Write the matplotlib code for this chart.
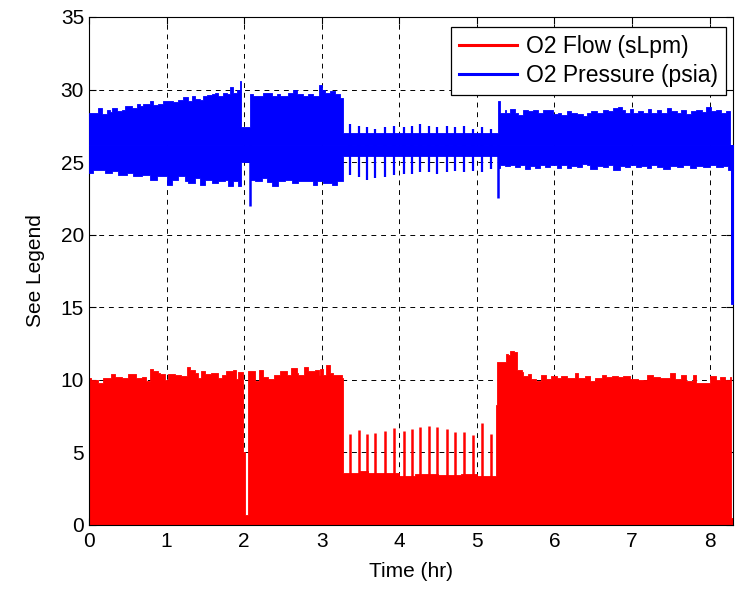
import matplotlib.pyplot as plt
import numpy as np

plt.rcParams['font.family'] = ['Liberation Sans', 'DejaVu Sans']

# ---- O2 flow (sLpm): upper edge of the dense trace, step-wise
flow_top_t = [0.00, 0.03, 0.12, 0.18, 0.29, 0.33, 0.42, 0.50, 0.55, 0.61, 0.68, 0.74,
              0.79, 0.83, 0.89, 0.92, 0.98, 1.02, 1.11, 1.19, 1.26, 1.30, 1.37, 1.41,
              1.45, 1.50, 1.58, 1.67, 1.71, 1.77, 1.86, 1.90, 1.925, 1.985, 2.015,
              2.05, 2.14, 2.19, 2.25, 2.31, 2.39, 2.46, 2.55, 2.60, 2.68, 2.70, 2.77,
              2.83, 2.92, 2.96, 2.98, 3.02, 3.06, 3.11, 3.15, 3.26, 3.28,
              3.50, 3.60, 3.75, 4.00, 4.20, 4.50, 4.80, 5.00, 5.235, 5.25,
              5.262, 5.374, 5.404, 5.434, 5.477, 5.52, 5.576, 5.597, 5.661, 5.704,
              5.769, 5.833, 5.898, 5.962, 6.027, 6.091, 6.156, 6.263, 6.306, 6.392,
              6.456, 6.521, 6.607, 6.671, 6.736, 6.822, 6.886, 6.972, 7.08, 7.187,
              7.273, 7.359, 7.488, 7.552, 7.638, 7.702, 7.788, 7.831, 7.917, 8.003,
              8.089, 8.131, 8.196, 8.26, 8.28, 8.30]
flow_top_v = [10.1, 10.0, 9.8, 10.1, 10.4, 10.2, 10.15, 10.4, 10.4, 10.15, 10.2, 9.9,
              10.75, 10.6, 10.45, 10.4, 10.0, 10.4, 10.3, 10.25, 10.9, 10.7, 10.45, 10.1,
              10.6, 10.4, 10.45, 10.15, 10.3, 10.6, 10.7, 10.05, 10.55, 5.0, 0.7,
              10.6, 9.95, 10.7, 10.2, 10.05, 10.3, 10.6, 10.3, 10.8, 10.45, 10.35, 10.9,
              10.6, 10.7, 10.35, 10.75, 10.3, 11.0, 10.45, 10.3, 10.1, 3.6,
              3.7, 3.55, 3.6, 3.4, 3.5, 3.45, 3.5, 3.4, 3.35, 8.3,
              11.26, 11.79, 11.72, 12.02, 11.95, 10.69, 10.57, 10.23, 10.4, 10.05,
              9.9, 10.35, 10.05, 10.25, 10.1, 10.25, 10.1, 10.45, 10.1, 10.25,
              9.95, 10.1, 10.3, 10.2, 10.25, 10.2, 10.25, 10.05, 10.0, 10.35,
              10.2, 10.1, 10.45, 10.05, 10.3, 9.9, 10.3, 9.75, 9.75, 10.25,
              10.0, 10.2, 10.0, 10.2, 0.5, 0.5]

# periodic flow spikes during the low-flow period
spike_t = [3.36, 3.48, 3.58, 3.69, 3.82, 3.93, 4.06, 4.17, 4.27, 4.38, 4.49,
           4.61, 4.72, 4.84, 4.95, 5.07, 5.18]
spike_v = [6.25, 6.55, 6.3, 6.35, 6.45, 6.7, 6.5, 6.62, 6.74, 6.83, 6.74,
           6.6, 6.43, 6.39, 6.2, 7.05, 6.25]

# ---- O2 pressure (psia): upper and lower edges of the dense trace
pres_top_t = [0.00, 0.12, 0.163, 0.228, 0.27, 0.292, 0.356, 0.421, 0.464, 0.55, 0.614,
              0.657, 0.70, 0.743, 0.786, 0.829, 0.894, 0.958, 1.022, 1.087, 1.151,
              1.216, 1.28, 1.323, 1.366, 1.43, 1.473, 1.516, 1.581, 1.624, 1.667,
              1.731, 1.774, 1.817, 1.86, 1.903, 1.946, 1.965,
              2.075, 2.118, 2.247, 2.354, 2.418, 2.461, 2.569, 2.633, 2.676, 2.762,
              2.826, 2.891, 2.964, 2.998, 3.041, 3.106, 3.17, 3.234, 3.28,
              5.27, 5.296, 5.361, 5.382, 5.425, 5.49, 5.533, 5.597, 5.661, 5.726,
              5.79, 5.855, 5.919, 5.984, 6.048, 6.091, 6.156, 6.22, 6.285, 6.371,
              6.414, 6.478, 6.543, 6.629, 6.693, 6.757, 6.822, 6.865, 6.908, 6.972,
              7.015, 7.08, 7.144, 7.208, 7.251, 7.316, 7.38, 7.445, 7.509, 7.574,
              7.638, 7.702, 7.767, 7.831, 7.896, 7.96, 8.024, 8.089, 8.153, 8.218,
              8.26, 8.282, 8.30]
pres_top_v = [28.39, 28.74, 28.32, 28.62, 28.46, 28.74, 28.51, 28.62, 28.85, 28.74, 28.97,
              28.85, 28.97, 29.01, 29.2, 28.92, 29.01, 29.24, 29.2, 29.15, 29.31,
              29.47, 29.24, 29.54, 29.38, 29.31, 29.54, 29.61, 29.66, 29.77, 29.54,
              29.77, 29.66, 30.16, 29.77, 30.0, 30.57, 27.4,
              29.66, 29.54, 29.77, 29.54, 29.66, 29.54, 29.77, 30.0, 29.66, 29.54,
              29.66, 29.54, 30.28, 30.0, 29.77, 29.89, 29.66, 29.43, 27.0,
              29.2, 28.39, 28.62, 28.39, 28.69, 28.39, 28.28, 28.62, 28.51, 28.62,
              28.39, 28.62, 28.62, 28.32, 28.39, 28.23, 28.51, 28.39, 28.32, 28.16,
              28.39, 28.55, 28.39, 28.62, 28.51, 28.74, 28.78, 28.62, 28.39, 28.69,
              28.39, 28.55, 28.39, 28.69, 28.39, 28.62, 28.39, 28.74, 28.51, 28.39,
              28.62, 28.32, 28.51, 28.62, 28.46, 28.78, 28.51, 28.62, 28.39, 28.51,
              26.0, 15.6, 15.6]

pres_bot_t = [0.00, 0.056, 0.206, 0.292, 0.378, 0.486, 0.571, 0.679, 0.786, 0.872,
              1.001, 1.065, 1.151, 1.237, 1.28, 1.366, 1.43, 1.495, 1.581, 1.667,
              1.753, 1.796, 1.86, 1.925, 1.965,
              2.075, 2.14, 2.225, 2.29, 2.354, 2.44, 2.526, 2.612, 2.698, 2.891,
              2.934, 3.02, 3.127, 3.192, 3.28,
              5.27, 5.296, 5.361, 5.425, 5.49, 5.554, 5.619, 5.683, 5.747, 5.812,
              5.876, 5.941, 6.027, 6.091, 6.156, 6.22, 6.285, 6.35, 6.414, 6.456,
              6.543, 6.629, 6.693, 6.757, 6.843, 6.908, 6.972, 7.058, 7.122, 7.187,
              7.251, 7.316, 7.402, 7.488, 7.574, 7.66, 7.745, 7.831, 7.917, 8.003,
              8.089, 8.175, 8.239, 8.282, 8.30]
pres_bot_v = [24.25, 24.48, 24.25, 24.37, 24.14, 24.25, 24.02, 24.14, 23.79, 24.02,
              23.45, 23.79, 24.02, 23.72, 23.56, 23.91, 23.45, 23.79, 23.56, 23.68,
              23.79, 23.33, 23.68, 23.33, 25.0,
              23.79, 23.68, 23.91, 23.61, 23.33, 23.68, 23.79, 23.56, 23.68, 23.45,
              23.68, 23.56, 23.45, 23.68, 25.4,
              24.6, 24.83, 24.71, 24.78, 24.64, 24.78, 24.55, 24.71, 24.6, 24.83,
              24.64, 24.78, 24.6, 24.78, 24.6, 24.71, 24.64, 24.87, 24.78, 24.55,
              24.71, 24.64, 24.78, 24.48, 24.71, 24.64, 24.78, 24.64, 24.71, 24.6,
              24.83, 24.64, 24.55, 24.71, 24.64, 24.78, 24.6, 24.71, 24.64, 24.78,
              24.64, 24.71, 24.48, 15.2, 15.2]

# isolated pressure excursions
pres_dip_t = [2.08, 5.275]
pres_dip_v = [21.95, 22.5]
pres_spk_lo = [24.1, 24.0, 23.8, 23.9, 24.0, 24.1, 24.2, 24.2, 24.3, 24.3, 24.2,
               24.3, 24.4, 24.3, 24.4, 24.3, 24.5]
pres_spk_hi = [27.6, 27.5, 27.4, 27.3, 27.4, 27.5, 27.4, 27.5, 27.6, 27.5, 27.4,
               27.5, 27.4, 27.5, 27.3, 27.4, 27.3]

red = '#ff0000'
blue = '#0000ff'
pres_mid = 26.2

fig = plt.figure(figsize=(7.41, 5.91), dpi=100)
ax = fig.add_axes([0.120, 0.1117, 0.869, 0.8596])

ax.fill_between(flow_top_t, 0, flow_top_v, step='post', color=red, lw=0.6, zorder=2)
ax.vlines(spike_t, 3.0, spike_v, color=red, lw=1.8, zorder=2)

ax.fill_between(pres_top_t, pres_mid, pres_top_v, step='post', color=blue, lw=0.6, zorder=3)
ax.fill_between(pres_bot_t, pres_bot_v, pres_mid, step='post', color=blue, lw=0.6, zorder=3)
ax.vlines(pres_dip_t, pres_dip_v, pres_mid, color=blue, lw=1.8, zorder=3)
ax.vlines(spike_t, pres_spk_lo, pres_spk_hi, color=blue, lw=1.6, zorder=3)

# legend handles
ax.plot([], [], color=red, lw=2.2, label='O2 Flow (sLpm)')
ax.plot([], [], color=blue, lw=2.2, label='O2 Pressure (psia)')

ax.set_xlim(0, 8.3)
ax.set_ylim(0, 35)
ax.set_xticks(range(0, 9))
ax.set_yticks(range(0, 36, 5))
ax.set_axisbelow(True)
ax.grid(True, color='black', ls=(0, (5, 5)), lw=0.7)
ax.tick_params(direction='in', top=True, right=True, labelsize=15, length=5)
ax.tick_params(axis='x', pad=5)
for s in ax.spines.values():
    s.set_linewidth(0.8)

ax.set_xlabel('Time (hr)', fontsize=15, labelpad=8)
ax.set_ylabel('See Legend', fontsize=15, labelpad=11)

leg = ax.legend(loc='upper right', bbox_to_anchor=(0.989, 0.980), fontsize=16.5,
                fancybox=False, framealpha=1, edgecolor='black', borderpad=0.35,
                handlelength=2.5, handletextpad=0.4, labelspacing=0.25, borderaxespad=0)
leg.get_frame().set_linewidth(0.9)

fig.savefig('out.png', dpi=100)
